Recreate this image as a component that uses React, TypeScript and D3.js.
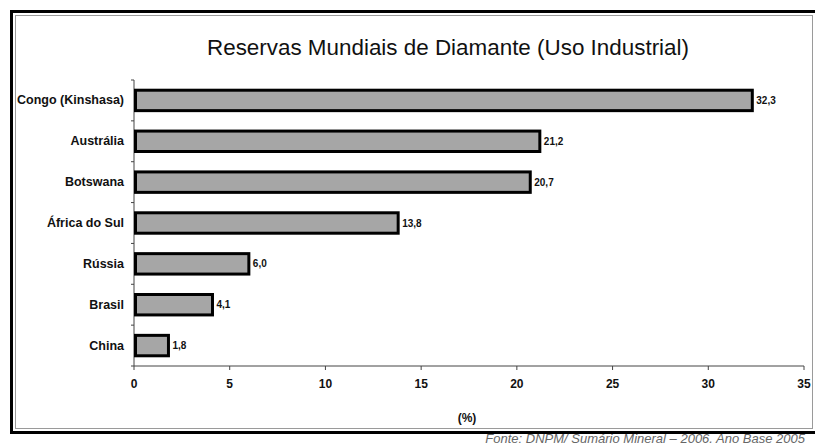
import React from "react";
import * as d3 from "d3";

const categories = ["Congo (Kinshasa)", "Austrália", "Botswana", "África do Sul", "Rússia", "Brasil", "China"];
const values = [32.3, 21.2, 20.7, 13.8, 6.0, 4.1, 1.8];
const xTicks = [0, 5, 10, 15, 20, 25, 30, 35];
const title = "Reservas Mundiais de Diamante (Uso Industrial)";
const axisTitle = "(%)";
const source = "Fonte: DNPM/ Sumário Mineral – 2006. Ano Base 2005";

export default function App() {
  const W = 815, H = 445;
  const left = 134, right = 804, top = 80, bottom = 366;
  const x = d3.scaleLinear().domain([0, 35]).range([left, right]);
  const y = d3.scaleBand().domain(categories).range([top, bottom]).paddingInner(0.5).paddingOuter(0.25);
  const band = d3.scaleBand().domain(categories).range([top, bottom]);
  const font = "'Liberation Sans', Arial, sans-serif";
  const fmt = (v: number) => d3.format(".1f")(v).replace(".", ",");
  const boundaries = categories.map((c) => band(c)!).concat([bottom]);

  return (
    <div style={{ position: "fixed", left: 0, top: 0, width: W, height: H, background: "#fff" }}>
      <svg width={W} height={H} style={{ display: "block" }}>
        <rect x={0} y={0} width={W} height={H} fill="#fff" />
        {/* outer frame */}
        <rect x={11.5} y={11.5} width={W + 10} height={421} fill="none" stroke="#000" strokeWidth={3} />
        <rect x={15.5} y={15.5} width={797} height={413} fill="none" stroke="#9a9a9a" strokeWidth={1} />
        <text x={448} y={55} textAnchor="middle" fontFamily={font} fontSize={22} fill="#111" textLength={482} lengthAdjust="spacingAndGlyphs">{title}</text>
        {/* y axis */}
        <line x1={left} x2={left} y1={top} y2={bottom} stroke="#444" strokeWidth={1} />
        {boundaries.map((b, i) => (
          <line key={"yt" + i} x1={left - 3} x2={left} y1={b} y2={b} stroke="#444" strokeWidth={1} />
        ))}
        {/* x axis */}
        <line x1={left} x2={right} y1={bottom} y2={bottom} stroke="#444" strokeWidth={1} />
        {xTicks.map((t) => (
          <g key={"xt" + t}>
            <line x1={x(t)} x2={x(t)} y1={bottom} y2={bottom + 4} stroke="#444" strokeWidth={1} />
            <text x={x(t)} y={bottom + 22} textAnchor="middle" fontFamily={font} fontWeight="bold" fontSize={12} fill="#111">{t}</text>
          </g>
        ))}
        <text x={x(17.5) - 2} y={422} textAnchor="middle" fontFamily={font} fontWeight="bold" fontSize={12} fill="#111">{axisTitle}</text>
        {/* bars */}
        {categories.map((c, i) => (
          <g key={c}>
            <rect x={x(0) + 1.5} y={y(c)!} width={x(values[i]) - x(0) - 1.5} height={y.bandwidth()} fill="#a6a6a6" stroke="#000" strokeWidth={3} />
            <text x={x(values[i]) + 4} y={y(c)! + y.bandwidth() / 2 + 3.5} fontFamily={font} fontWeight="bold" fontSize={10} fill="#111">{fmt(values[i])}</text>
            <text x={left - 10} y={band(c)! + band.bandwidth() / 2 + 4} textAnchor="end" fontFamily={font} fontWeight="bold" fontSize={12.5} fill="#111">{c}</text>
          </g>
        ))}
        <text x={805} y={443} textAnchor="end" fontFamily={font} fontStyle="italic" fontSize={13} fill="#666">{source}</text>
      </svg>
    </div>
  );
}
